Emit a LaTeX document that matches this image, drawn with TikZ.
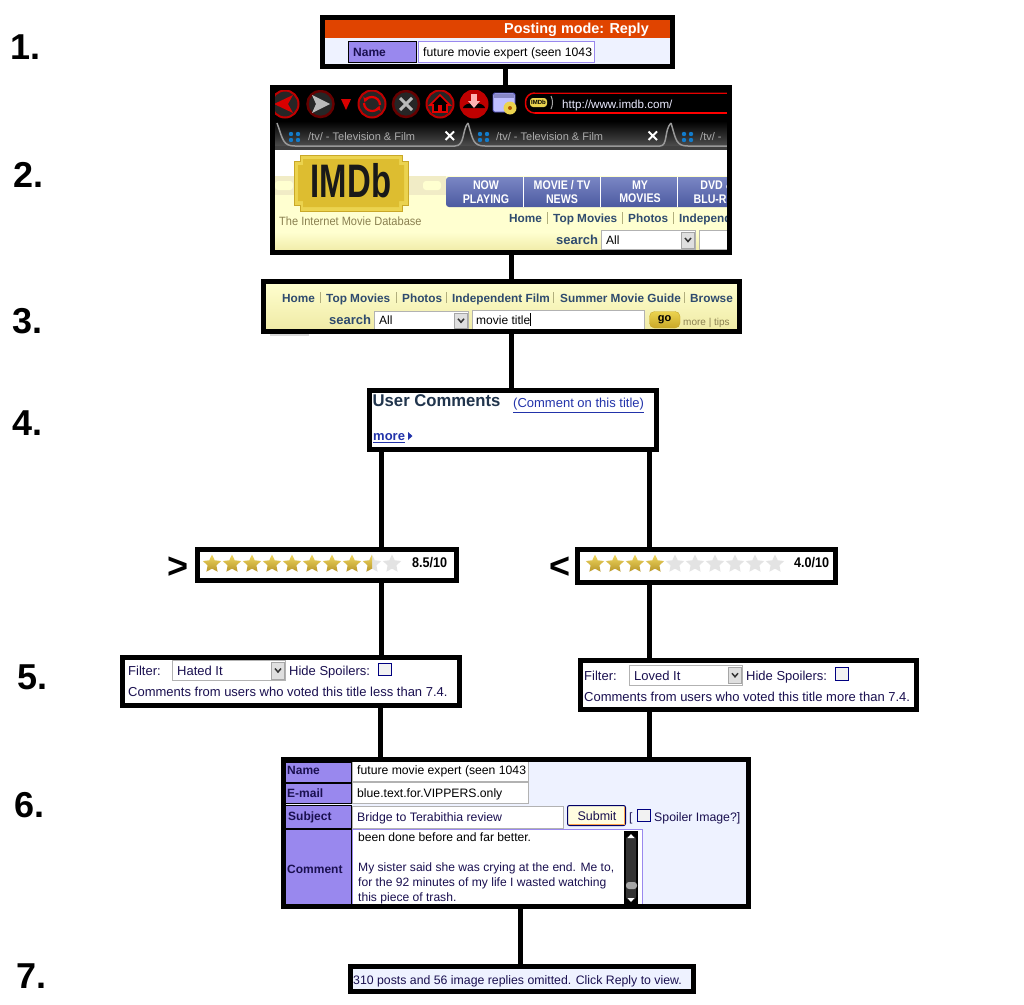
\documentclass[tikz,border=0pt]{standalone}
\usepackage{fontspec}
\usepackage{graphicx}
\setmainfont{Liberation Sans}
\usetikzlibrary{shapes.geometric,arrows.meta}
\definecolor{panel}{HTML}{EEF2FF}
\definecolor{cellp}{HTML}{9988EE}
\definecolor{navy}{HTML}{1A1050}
\definecolor{imlink}{HTML}{2F4B6E}
\definecolor{redband}{HTML}{E04400}
\definecolor{lnk}{HTML}{2233AA}
\definecolor{logoA}{HTML}{EBD34F}
\definecolor{logoB}{HTML}{DDBD30}
\definecolor{logoC}{HTML}{C9A828}
\definecolor{pageA}{HTML}{FFFFD0}
\definecolor{pageB}{HTML}{EFEAA4}
\definecolor{bandc}{HTML}{F1ECC6}
\definecolor{navA}{HTML}{7A86C4}
\definecolor{navB}{HTML}{4C5AA0}
\definecolor{starA}{HTML}{F0D860}
\definecolor{starB}{HTML}{B8962A}
\definecolor{tinyt}{HTML}{8A8050}
\newcommand{\fs}[1]{\fontsize{#1}{#1}\selectfont}
\newcommand{\selbox}[4]{% x1 y1 x2 y2
  \draw[fill=white,draw=gray!60,line width=.8pt] (#1,#2) rectangle (#3,#4);
  \draw[fill=gray!25,draw=gray!70,line width=.6pt] ({#3-14},{#2+1.5}) rectangle ({#3-1},{#4-1.5});
  \draw[line width=1.5pt,draw=black!80] ({#3-10.5},{(#2+#4)/2-2}) -- ({#3-7.5},{(#2+#4)/2+1.5}) -- ({#3-4.5},{(#2+#4)/2-2});
}
\tikzset{
  frame/.style={draw=black,line width=5pt,inner sep=0pt,minimum width=#1},
  conn/.style={draw=black,line width=5pt},
  num/.style={inner sep=0pt,font=\fs{36}\bfseries,anchor=mid west,yshift=-10pt},
  txt/.style={inner sep=0pt,anchor=mid west,yshift=-2pt},
  lbl/.style={txt,font=\fs{12},text=navy},
  lblm/.style={txt,font=\fs{13},text=navy},
  cell/.style={fill=cellp,draw=black,line width=1pt},
  field/.style={fill=white,draw=gray!60,line width=1pt},
  cellt/.style={txt,font=\fs{12}\bfseries,text=navy},
  nav/.style={txt,font=\fs{11.8}\bfseries,text=imlink},
  navb/.style={inner sep=0pt,align=center,font=\fs{12.5}\bfseries,text=white},
  sep/.style={draw=gray!70!yellow,line width=.7pt},
  starbase/.style={star,star points=5,star point ratio=2.05,minimum size=19pt,inner sep=0pt},
  goldstar/.style={starbase,top color=starA,bottom color=starB},
  greystar/.style={starbase,fill=gray!22},
  ring/.style={draw=red!75!black,line width=2pt,fill=black!85},
  dring/.style={draw=red!40!black,line width=2.5pt,fill=black!85},
  tabt/.style={txt,font=\fs{11},text=gray!65},
  chk/.style={fill=gray!10,draw=blue!50!black,line width=1pt},
}
\begin{document}
\begin{tikzpicture}[x=1pt,y=-1pt]
\useasboundingbox (0,0) rectangle (1024,1004);
\fill[white] (0,0) rectangle (1024,1004);

% step numbers
\node[num] (n1) at (10,47) {1.};
\node[num] (n2) at (13,175) {2.};
\node[num] (n3) at (12,321) {3.};
\node[num] (n4) at (12,423) {4.};
\node[num] (n5) at (17,677) {5.};
\node[num] (n6) at (14,805) {6.};
\node[num] (n7) at (16,976) {7.};
\node[num] (gt) at (167,566) {>};
\node[num] (lt) at (549,566) {<};

% ===== box 1
\fill[panel] (322,17) rectangle (673,67);
\fill[redband] (322,17) rectangle (673,38);
\node[txt,font=\fs{14.4}\bfseries,text=white] (t1a) at (504,28.5) {Posting mode: Reply};
\draw[cell] (348.5,41.5) rectangle (416.5,62.5);
\node[cellt] (t1b) at (353,52) {Name};
\draw[fill=white,draw=cellp,line width=1pt] (418.5,41.5) rectangle (594.5,62.5);
\node[lbl,text=black,font=\fs{12.2}] (t1c) at (423,52) {future movie expert (seen 1043};
\fill[white] (592,43) rectangle (594,61);

% ===== box 2
\begin{scope}
\clip (272,87) rectangle (730,253);
\fill[white] (272,87) rectangle (730,253);
\fill[black] (272,87) rectangle (730,121);
\shade[top color=black,bottom color=gray!70!black] (272,121) rectangle (730,150);
\fill[black!75] (272,146) rectangle (730,150);
% tab shapes
\draw[gray!80,line width=1.5pt] (277,123) .. controls (283,140) and (283,146) .. (295,146) -- (455,146) .. controls (465,146) and (462,130) .. (468,123);
\draw[gray!80,line width=1.5pt] (468,123) .. controls (473,140) and (473,146) .. (485,146) -- (660,146) .. controls (668,146) and (664,130) .. (671,123);
\draw[gray!80,line width=1.5pt] (671,123) .. controls (676,140) and (676,146) .. (688,146) -- (730,146);
% toolbar buttons
\draw[ring] (285,104) circle (13.5);
\fill[red!85!black] (274,104) -- (293,95) -- (288,104) -- (293,113) -- cycle;
\draw[dring] (320.5,104) circle (13);
\fill[gray!55] (330,104) -- (312,95) -- (316,104) -- (312,113) -- cycle;
\fill[red!85!black] (341,99) -- (351,99) -- (346,110) -- cycle;
\draw[ring] (372,104) circle (13.5);
\draw[red!90!black,line width=2.2pt,-{Stealth[length=5pt,width=6pt]}] (364,103) arc (180:20:8);
\draw[red!90!black,line width=2.2pt,-{Stealth[length=5pt,width=6pt]}] (380,105) arc (0:-160:8);
\draw[dring] (406,104) circle (13);
\draw[gray!55,line width=3pt] (400,98) -- (412,110) (412,98) -- (400,110);
\draw[ring] (440,104) circle (13.5);
\draw[red!90!black,line width=1.6pt,fill=black] (430,105) -- (440,95) -- (450,105) -- (447,105) -- (447,112) -- (433,112) -- (433,105) -- cycle;
\fill[red!90!black] (438,105) rectangle (442,112);
\draw[ring,fill=red!75!black] (474,104) circle (13.5);
\fill[black] (463,108) arc (180:360:11 and 5) -- cycle;
\fill[white!70!red] (471,94) rectangle (477,102);
\fill[white!70!red] (468,101) -- (480,101) -- (474,108) -- cycle;
% folder icon
\draw[fill=blue!25!white,draw=blue!40!gray,rounded corners=1.5pt,line width=.8pt] (493,93) rectangle (515,112);
\fill[blue!35!gray!70!white] (494,94) rectangle (514,98);
\fill[logoA] (510,108) circle (6.5);
\fill[orange!70!black] (510,108) circle (2);
% address pill
\draw[red!90!black,line width=1.5pt,rounded corners=9pt,fill=black] (525.5,113) -- (525.5,93) -- (740,93) -- (740,113) -- cycle;
\draw[red,line width=1.6pt] (535,113) -- (730,113);
\draw[black!70!red,line width=1pt] (535,92.5) -- (730,92.5);
\fill[logoA,rounded corners=3pt] (530,98) rectangle (547,107);
\node[inner sep=0pt,font=\fs{6}\bfseries,text=black] (t2u0) at (538.5,102.5) {IMDb};
\draw[gray!70,line width=1pt] (551,96) .. controls (553,100) and (553,105) .. (551,109);
\node[txt,font=\fs{11.6},text=blue!8!white] (t2u) at (562,104) {http://www.imdb.com/};
% tabs text
\foreach \x/\y in {295/a,484/b,688/c}{
  \fill[cyan!60!blue] (\x-4,134) circle (2.2) (\x+3,134) circle (2.2) (\x-4,140) circle (2.2) (\x+3,140) circle (2.2);
}
\node[tabt] (t2a) at (308,136) {/tv/ - Television \& Film};
\node[tabt] (t2b) at (496,136) {/tv/ - Television \& Film};
\node[tabt] (t2c) at (700,136) {/tv/ -};
\draw[white,line width=2pt] (445.5,131.5) -- (454,140) (454,131.5) -- (445.5,140);
\draw[white,line width=2pt] (648.5,131.5) -- (657,140) (657,131.5) -- (648.5,140);
% page
\fill[white] (272,150) rectangle (730,176);
\fill[pageA] (272,176) rectangle (730,232);
\shade[top color=pageA,bottom color=pageB] (272,232) rectangle (730,253);
\fill[bandc] (272,176) rectangle (446,195);
\foreach \x in {275,423}{\fill[pageA,rounded corners=3pt] (\x,181) rectangle (\x+18,190);}
% logo
\draw[fill=logoA,draw=logoC,line width=1pt]
 (300,155) -- (402,155) -- (402,161) -- (408,161) -- (408,205) -- (402,205) -- (402,211) -- (300,211) -- (300,205) -- (294,205) -- (294,161) -- (300,161) -- cycle;
\fill[logoB] (303,159) -- (399,159) -- (399,165) -- (404,165) -- (404,201) -- (399,201) -- (399,207) -- (303,207) -- (303,201) -- (298,201) -- (298,165) -- (303,165) -- cycle;
\node[inner sep=0pt,font=\fs{47}\bfseries,text=black!90] (t2logo) at (351,181) {\scalebox{.7}[1]{IMDb}};
\node[txt,font=\fs{12},text=tinyt] (t2d) at (279,221) {\scalebox{.92}[1]{The Internet Movie Database}};
% nav
\shade[top color=navA,bottom color=navB,rounded corners=3pt] (446,177) rectangle (740,207);
\draw[white,line width=.8pt] (523.5,177) -- (523.5,207) (600.5,177) -- (600.5,207) (677.5,177) -- (677.5,207);
\node[navb] (t2n1) at (486,192) {\scalebox{.85}[1]{NOW}\\[1pt]\scalebox{.85}[1]{PLAYING}};
\node[navb] (t2n2) at (562,192) {\scalebox{.85}[1]{MOVIE / TV}\\[1pt]\scalebox{.85}[1]{NEWS}};
\node[navb] (t2n3) at (640,192) {\scalebox{.85}[1]{MY}\\[1pt]\scalebox{.85}[1]{MOVIES}};
\node[navb] (t2n4) at (717,192) {\scalebox{.85}[1]{DVD \&}\\[1pt]\scalebox{.85}[1]{BLU-RAY}};
\node[nav] (t2l1) at (509,218) {Home};
\node[nav] (t2l2) at (553,218) {Top Movies};
\node[nav] (t2l3) at (628,218) {Photos};
\node[nav] (t2l4) at (679,218) {Independent};
\draw[sep] (547.5,212) -- (547.5,224) (622.5,212) -- (622.5,224) (673.5,212) -- (673.5,224);
\node[nav,font=\fs{13}\bfseries] (t2s) at (556,240) {search};
\selbox{601.5}{230.5}{695.5}{249.5}
\node[lbl,text=black] (t2all) at (606,240) {All};
\draw[field] (699.5,230.5) rectangle (740,249.5);
\end{scope}

% ===== box 3
\shade[top color=pageA,bottom color=pageB] (263,281) rectangle (740,332);
\fill[gray!30] (270,334) rectangle (309,335.5);
\node[nav] (t3a) at (282,297.5) {Home};
\node[nav] (t3b) at (326,297.5) {Top Movies};
\node[nav] (t3c) at (402,297.5) {Photos};
\node[nav] (t3d) at (452,297.5) {Independent Film};
\node[nav] (t3e) at (560,297.5) {Summer Movie Guide};
\node[nav] (t3f) at (690,297.5) {Browse};
\draw[sep] (320.5,292) -- (320.5,303) (396.5,292) -- (396.5,303) (446.5,292) -- (446.5,303) (553.5,292) -- (553.5,303) (684.5,292) -- (684.5,303);
\node[nav,font=\fs{13}\bfseries] (t3s) at (329,320) {search};
\selbox{374.5}{311.5}{468.5}{330}
\node[lbl,text=black] (t3all) at (379,320) {All};
\draw[field] (472.5,310) rectangle (644,330);
\node[lbl,text=black] (t3mt) at (476,320) {movie title};
\draw[black,line width=.8pt] (530.5,313) -- (530.5,326);
\draw[top color=logoA,bottom color=logoC,draw=logoC,rounded corners=5pt] (649.5,311.5) rectangle (680,328);
\node[inner sep=0pt,font=\fs{11}\bfseries,text=black] (t3go) at (664.5,319.5) {go};
\node[txt,font=\fs{10},text=tinyt] (t3m) at (683,321) {more | tips};

% ===== box 4
\fill[white] (369,390) rectangle (657,450);
\node[txt,font=\fs{17}\bfseries,text=imlink!70!black] (t4a) at (372.5,402) {\scalebox{.98}[1]{User Comments}};
\node[txt,font=\fs{13},text=lnk] (t4b) at (513,403) {\underline{(Comment on this title)}};
\node[txt,font=\fs{13}\bfseries,text=lnk] (t4c) at (373,436) {\underline{more}};
\fill[lnk] (408,432) -- (412.5,436) -- (408,440) -- cycle;

% ===== ratings
\foreach \i in {0,...,7}{\node[goldstar] (sl\i) at ({212+20*\i},564) {};}
\node[greystar] (sl8) at (372,564) {};
\begin{scope}
\clip (360,550) rectangle (372,580);
\node[goldstar] (sl8h) at (372,564) {};
\end{scope}
\node[greystar] (sl9) at (392,564) {};
\node[txt,font=\fs{14}\bfseries,text=black] (t5a) at (412,563) {\scalebox{.9}[1]{8.5/10}};
\foreach \i in {0,...,3}{\node[goldstar] (sr\i) at ({595+20*\i},564) {};}
\foreach \i in {4,...,9}{\node[greystar] (sr\i) at ({595+20*\i},564) {};}
\node[txt,font=\fs{14}\bfseries,text=black] (t5b) at (794,563) {\scalebox{.9}[1]{4.0/10}};

% ===== filters
\node[lblm] (f1) at (128,670.5) {Filter:};
\selbox{172.5}{660.5}{285.5}{680.5}
\node[lblm] (f2) at (177,670.5) {Hated It};
\node[lblm] (f3) at (289,670.5) {Hide Spoilers:};
\draw[chk] (378.5,663.5) rectangle (391,675);
\node[lblm] (f4) at (128,692) {Comments from users who voted this title less than 7.4.};
\node[lblm] (g1) at (584,675.5) {Filter:};
\selbox{629.5}{665.5}{742.5}{685}
\node[lblm] (g2) at (634,675.5) {Loved It};
\node[lblm] (g3) at (746,675.5) {Hide Spoilers:};
\draw[chk] (835.5,667.5) rectangle (848,680);
\node[lblm] (g4) at (584,697) {Comments from users who voted this title more than 7.4.};

% ===== box 6
\fill[panel] (283,759) rectangle (749,906);
\draw[cell] (285.5,762) rectangle (351,782);
\draw[cell] (285.5,783) rectangle (351,803);
\draw[cell] (285.5,805) rectangle (351,828);
\draw[cell] (285.5,829) rectangle (351,906);
\node[cellt] (c1) at (287,770) {Name};
\node[cellt] (c2) at (287,793) {E-mail};
\node[cellt] (c3) at (288,816) {Subject};
\node[cellt] (c4) at (287,869) {Comment};
\draw[field] (352.5,760) rectangle (528.5,781);
\draw[field] (352.5,782.5) rectangle (528.5,803);
\draw[field] (352.5,806.5) rectangle (563.5,828);
\node[lbl,text=black,font=\fs{12.2}] (i1) at (357,770) {future movie expert (seen 1043};
\node[lbl,text=black,font=\fs{12.2}] (i2) at (357,793) {blue.text.for.VIPPERS.only};
\node[lbl,font=\fs{12.3}] (i3) at (357,817) {Bridge to Terabithia review};
\fill[white] (526,763) rectangle (528,780);
\draw[fill=yellow!12!white,draw=blue!40!black,line width=1pt,rounded corners=2pt] (567.5,805.5) rectangle (625.5,825.5);
\draw[orange!70,line width=1pt] (568.5,824.5) -- (624.5,824.5) -- (624.5,806.5);
\node[inner sep=0pt,font=\fs{12.5},text=navy] (i4) at (597,816) {Submit};
\node[lbl] (i5) at (629,817) {[};
\draw[chk] (637.5,809) rectangle (650,821);
\node[lbl,font=\fs{12.3}] (i6) at (654,817) {Spoiler Image?]};
\draw[fill=white,draw=cellp,line width=1pt] (352.5,829.5) rectangle (642.5,906);
\fill[black] (624,831) rectangle (638,904);
\fill[gray!40!black,rounded corners=3pt] (626,836) rectangle (636,900);
\fill[gray!70,rounded corners=3pt] (626,882) rectangle (637,889);
\fill[white] (631,834) -- (634.5,838) -- (627.5,838) -- cycle;
\fill[white] (631,902) -- (634.5,898) -- (627.5,898) -- cycle;
\node[lbl,text=black,font=\fs{12.1}] (x1) at (358,837) {been done before and far better.};
\node[lbl,font=\fs{12.1}] (x2) at (358,867) {My sister said she was crying at the end. Me to,};
\node[lbl,font=\fs{12.1}] (x3) at (358,882) {for the 92 minutes of my life I wasted watching};
\node[lbl,font=\fs{12.1}] (x4) at (358,897) {this piece of trash.};

% ===== box 7
\fill[panel] (350,966) rectangle (694,992);
\node[lbl,font=\fs{12.3}] (b7t) at (353,980) {310 posts and 56 image replies omitted. Click Reply to view.};

% ===== frames (centre at mid-lines)
\node[frame=350.5,minimum height=49.5] (b1) at (497.5,42) {};
\node[frame=457,minimum height=165] (b2) at (501,170) {};
\node[frame=476,minimum height=50] (b3) at (501.5,306.5) {};
\node[frame=287,minimum height=59] (b4) at (513,420) {};
\node[frame=259,minimum height=31.5] (rl) at (327,565) {};
\node[frame=258,minimum height=33] (rr) at (706.5,566) {};
\node[frame=337,minimum height=48] (fl) at (291,681.5) {};
\node[frame=336,minimum height=49] (fr) at (748.5,685) {};
\node[frame=465,minimum height=147] (b6) at (516,833) {};
\node[frame=343,minimum height=25] (b7) at (522,979) {};

% connectors
\coordinate (x12) at (505.5,0);
\coordinate (x23) at (511.5,0);
\coordinate (xl) at (381.5,0);
\coordinate (xr) at (649,0);
\coordinate (xlb) at (380.5,0);
\coordinate (x67) at (520.5,0);
\draw[conn] (b1.south -| x12) -- (b2.north -| x12);
\draw[conn] (b2.south -| x23) -- (b3.north -| x23);
\draw[conn] (b3.south -| x23) -- (b4.north -| x23);
\draw[conn] (b4.south -| xl) -- (rl.north -| xl);
\draw[conn] (b4.south -| xr) -- (rr.north -| xr);
\draw[conn] (rl.south -| xl) -- (fl.north -| xl);
\draw[conn] (rr.south -| xr) -- (fr.north -| xr);
\draw[conn] (fl.south -| xlb) -- (b6.north -| xlb);
\draw[conn] (fr.south -| xr) -- (b6.north -| xr);
\draw[conn] (b6.south -| x67) -- (b7.north -| x67);
\end{tikzpicture}
\end{document}
